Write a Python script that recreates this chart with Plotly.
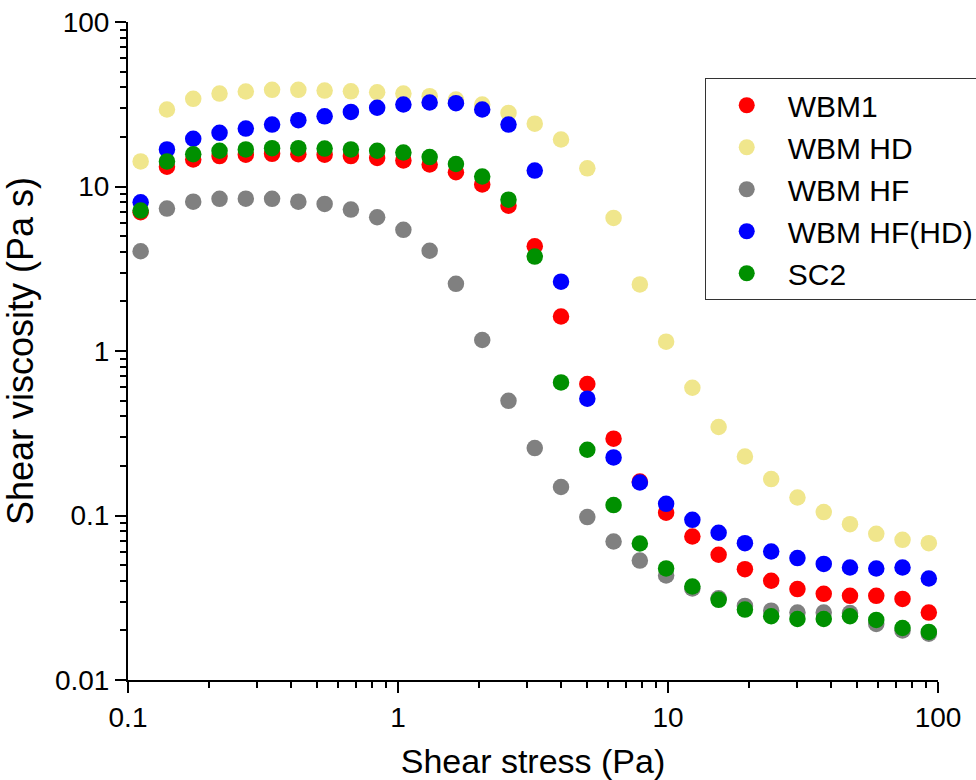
import plotly.graph_objects as go

# Shear stress (Pa)
shear_stress = [0.1114, 0.1394, 0.1744, 0.2183, 0.2731, 0.3417, 0.4275, 0.5349, 0.6692, 0.8372,
                1.047, 1.310, 1.639, 2.051, 2.566, 3.210, 4.016, 5.025, 6.287, 7.866,
                9.840, 12.31, 15.40, 19.27, 24.11, 30.16, 37.74, 47.21, 59.07, 73.90, 92.47]

# Shear viscosity (Pa s)
wbm1 = [6.97, 13.2, 14.6, 15.3, 15.6, 15.8, 15.7, 15.6, 15.3, 14.9,
        14.4, 13.6, 12.2, 10.3, 7.65, 4.33, 1.62, 0.630, 0.293, 0.161,
        0.104, 0.0745, 0.0577, 0.0472, 0.0401, 0.0357, 0.0334, 0.0325, 0.0325, 0.0311, 0.0257]
wbm_hd = [14.2, 29.4, 34.1, 36.7, 37.8, 38.7, 38.7, 38.3, 37.9, 37.4,
          36.7, 35.4, 33.8, 31.5, 28.0, 24.1, 19.3, 12.9, 6.44, 2.54,
          1.14, 0.598, 0.345, 0.2285, 0.1665, 0.1287, 0.1049, 0.0886, 0.0774, 0.0711, 0.0679]
wbm_hf = [4.04, 7.34, 8.09, 8.41, 8.43, 8.41, 8.09, 7.84, 7.24, 6.50,
          5.45, 4.07, 2.56, 1.166, 0.498, 0.257, 0.149, 0.0978, 0.0695, 0.0532,
          0.0432, 0.0360, 0.0314, 0.0282, 0.0264, 0.0257, 0.0257, 0.0255, 0.0219, 0.0200, 0.0191]
wbm_hf_hd = [8.01, 16.8, 19.5, 21.2, 22.5, 23.8, 25.3, 26.7, 28.4, 30.1,
             31.5, 32.4, 32.1, 29.4, 23.8, 12.5, 2.64, 0.513, 0.2254, 0.1587,
             0.1178, 0.0941, 0.0785, 0.0679, 0.0604, 0.0551, 0.0508, 0.0483, 0.0476, 0.0483, 0.0414]
sc2 = [7.14, 14.2, 15.7, 16.5, 16.8, 17.1, 17.1, 17.0, 16.8, 16.5,
       16.1, 15.1, 13.7, 11.5, 8.32, 3.75, 0.644, 0.251, 0.1157, 0.0676,
       0.0477, 0.0370, 0.0307, 0.0268, 0.0244, 0.0235, 0.0235, 0.0244, 0.0232, 0.0207, 0.0196]

series_names = ["WBM1", "WBM HD", "WBM HF", "WBM HF(HD)", "SC2"]
series_values = [wbm1, wbm_hd, wbm_hf, wbm_hf_hd, sc2]
series_colors = ["#FF0000", "#F0E68C", "#808080", "#0000FF", "#009000"]

x_tickvals = [0.1, 1, 10, 100]
x_ticktext = ["0.1", "1", "10", "100"]
y_tickvals = [0.01, 0.1, 1, 10, 100]
y_ticktext = ["0.01", "0.1", "1", "10", "100"]

FONT = "Liberation Sans, Arial, sans-serif"

fig = go.Figure()
for name, vals, col in zip(series_names, series_values, series_colors):
    fig.add_trace(go.Scatter(
        x=shear_stress, y=vals, mode="markers", name=name,
        marker=dict(size=16.5, color=col, line=dict(width=0)),
    ))

axis_common = dict(
    type="log", showline=True, linewidth=2, linecolor="black", mirror=False,
    ticks="outside", ticklen=11, tickwidth=2, tickcolor="black",
    showgrid=False, zeroline=False,
    tickfont=dict(family=FONT, size=28, color="black"),
    minor=dict(ticks="outside", ticklen=6, tickwidth=2, tickcolor="black",
               dtick="D1", showgrid=False),
)

fig.update_layout(
    width=976, height=780,
    margin=dict(l=128, r=38, t=22, b=100, autoexpand=False),
    paper_bgcolor="white", plot_bgcolor="white",
    font=dict(family=FONT, color="black"),
    xaxis=dict(axis_common, range=[-1, 2], tickvals=x_tickvals, ticktext=x_ticktext,
               title=dict(text="Shear stress (Pa)", font=dict(family=FONT, size=34), standoff=18)),
    yaxis=dict(axis_common, range=[-2, 2], tickvals=y_tickvals, ticktext=y_ticktext,
               title=dict(text="Shear viscosity (Pa s)", font=dict(family=FONT, size=36), standoff=16)),
    legend=dict(x=0.712, y=0.9145, xanchor="left", yanchor="top",
                bgcolor="white", bordercolor="#333333", borderwidth=1,
                font=dict(family=FONT, size=30, color="black"),
                itemwidth=72, tracegroupgap=0),
    showlegend=True,
)

fig.write_html("out.html")
